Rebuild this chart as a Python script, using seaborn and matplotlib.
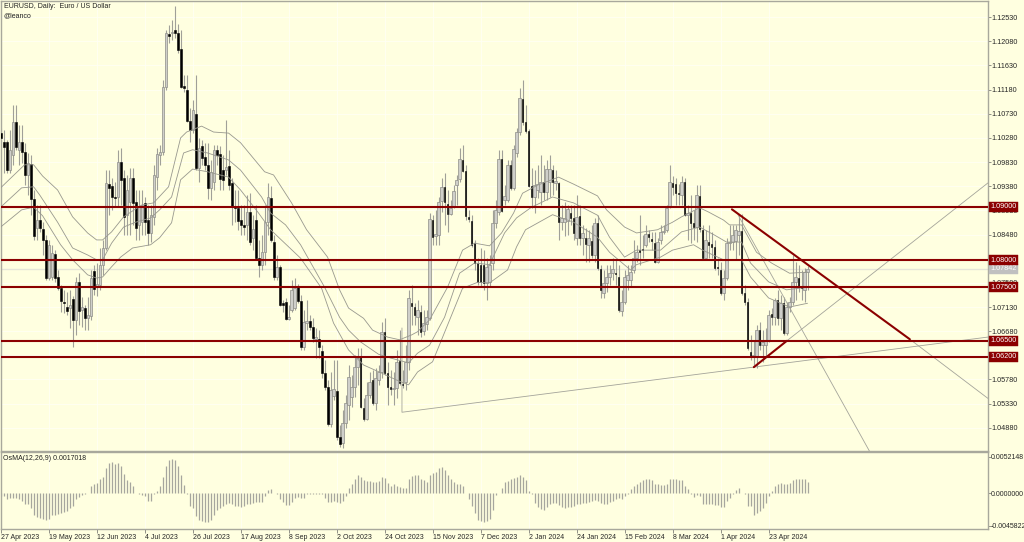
import numpy as np
import pandas as pd
import matplotlib
matplotlib.use("Agg")
import matplotlib.pyplot as plt
import seaborn as sns

# prices in 1/10000 (pips), 10 bars per row
open_pips = [
    11037, 11020, 11020, 10968, 10997, 11057, 11006, 11020, 11002, 10959,
    10980, 10914, 10860, 10875, 10858, 10838, 10767, 10769, 10812, 10769,
    10748, 10722, 10713, 10711, 10728, 10689, 10759, 10707, 10711, 10692,
    10696, 10780, 10752, 10754, 10792, 10823, 10943, 10939, 10918, 10918,
    10983, 10954, 10884, 10908, 10954, 10908, 10866, 10871, 10906, 10875,
    10851, 10881, 10955, 10997, 11002, 11122, 11222, 11224, 11229, 11224,
    11194, 11125, 11117, 11060, 11043, 11073, 10972, 11013, 10993, 10978,
    10935, 10946, 11006, 10998, 10968, 10968, 10976, 10944, 10899, 10898,
    10875, 10866, 10866, 10890, 10842, 10875, 10804, 10792, 10815, 10871,
    10916, 10834, 10769, 10788, 10720, 10722, 10691, 10707, 10711, 10750,
    10724, 10639, 10683, 10687, 10676, 10654, 10654, 10631, 10590, 10564,
    10495, 10547, 10556, 10471, 10460, 10497, 10530, 10545, 10564, 10601,
    10620, 10525, 10505, 10549, 10577, 10534, 10577, 10592, 10666, 10590,
    10564, 10560, 10562, 10612, 10570, 10573, 10611, 10720, 10713, 10694,
    10704, 10668, 10681, 10692, 10875, 10845, 10847, 10910, 10937, 10905,
    10886, 10901, 10941, 10952, 10987, 10966, 10881, 10873, 10832, 10795,
    10792, 10792, 10758, 10759, 10795, 10870, 10890, 10989, 10912, 10912,
    10978, 10935, 11000, 11039, 11101, 11057, 11041, 10939, 10918, 10931,
    10927, 10946, 10927, 10946, 10968, 10944, 10944, 10871, 10871, 10873,
    10888, 10879, 10842, 10883, 10842, 10842, 10829, 10836, 10810, 10870,
    10784, 10739, 10758, 10769, 10776, 10776, 10769, 10706, 10722, 10763,
    10763, 10782, 10804, 10819, 10821, 10829, 10849, 10840, 10832, 10797,
    10838, 10853, 10857, 10899, 10944, 10943, 10925, 10922, 10946, 10884,
    10888, 10870, 10862, 10920, 10857, 10804, 10834, 10830, 10825, 10788,
    10782, 10739, 10767, 10832, 10834, 10836, 10847, 10855, 10739, 10722,
    10629, 10620, 10620, 10670, 10642, 10642, 10652, 10700, 10694, 10726,
    10692, 10720, 10665, 10713, 10722, 10759, 10767, 10752, 10745, 10778,
]
close_pips = [
    11028, 11011, 10968, 11006, 11057, 11011, 11020, 11002, 10959, 10981,
    10914, 10845, 10875, 10860, 10838, 10767, 10829, 10814, 10767, 10748,
    10724, 10720, 10706, 10717, 10689, 10759, 10706, 10713, 10692, 10698,
    10767, 10747, 10756, 10792, 10823, 10944, 10935, 10918, 10916, 10983,
    10950, 10881, 10931, 10954, 10906, 10860, 10899, 10903, 10871, 10851,
    10884, 10959, 10998, 11002, 11122, 11224, 11218, 11225, 11224, 11192,
    11122, 11121, 11060, 11043, 11080, 10972, 11009, 10991, 10978, 10935,
    10965, 11006, 10997, 10951, 10950, 10974, 10940, 10899, 10898, 10873,
    10866, 10862, 10890, 10834, 10858, 10804, 10792, 10815, 10871, 10918,
    10838, 10769, 10788, 10717, 10717, 10691, 10694, 10745, 10748, 10724,
    10639, 10685, 10687, 10676, 10655, 10657, 10639, 10590, 10564, 10495,
    10558, 10560, 10471, 10458, 10497, 10534, 10583, 10564, 10601, 10618,
    10527, 10505, 10549, 10573, 10534, 10581, 10592, 10666, 10590, 10564,
    10560, 10562, 10611, 10571, 10568, 10611, 10730, 10715, 10698, 10707,
    10666, 10683, 10694, 10877, 10843, 10849, 10908, 10937, 10908, 10886,
    10898, 10929, 10950, 10989, 10966, 10883, 10877, 10829, 10795, 10759,
    10759, 10758, 10788, 10792, 10870, 10894, 10989, 10892, 10920, 10978,
    10935, 11007, 11039, 11102, 11057, 11041, 10939, 10918, 10940, 10943,
    10946, 10927, 10970, 10970, 10946, 10948, 10871, 10879, 10879, 10896,
    10879, 10851, 10881, 10842, 10851, 10830, 10842, 10810, 10870, 10786,
    10745, 10758, 10769, 10776, 10784, 10775, 10707, 10722, 10769, 10773,
    10778, 10804, 10815, 10815, 10819, 10849, 10843, 10836, 10797, 10834,
    10853, 10855, 10898, 10946, 10937, 10925, 10924, 10946, 10884, 10888,
    10870, 10862, 10922, 10858, 10804, 10838, 10829, 10825, 10786, 10786,
    10739, 10767, 10832, 10834, 10847, 10857, 10855, 10739, 10722, 10637,
    10620, 10624, 10670, 10642, 10648, 10652, 10698, 10694, 10726, 10692,
    10720, 10665, 10713, 10722, 10759, 10769, 10752, 10748, 10778, 10784,
]
high_pips = [
    11046, 11043, 11024, 11043, 11089, 11089, 11052, 11052, 11019, 11000,
    10997, 10931, 10903, 10903, 10871, 10847, 10838, 10829, 10819, 10782,
    10754, 10745, 10741, 10745, 10734, 10769, 10776, 10732, 10717, 10732,
    10782, 10792, 10795, 10823, 10838, 10968, 10968, 10954, 10946, 11006,
    11009, 10968, 10959, 10972, 10972, 10931, 10931, 10931, 10918, 10903,
    10903, 10978, 11009, 11015, 11136, 11229, 11238, 11248, 11274, 11240,
    11229, 11145, 11145, 11084, 11099, 11145, 11028, 11024, 11019, 11019,
    10987, 11015, 11015, 11013, 10997, 11061, 11006, 10954, 10931, 10931,
    10903, 10903, 10922, 10925, 10884, 10903, 10838, 10847, 10903, 10944,
    10939, 10847, 10810, 10792, 10726, 10730, 10717, 10763, 10767, 10756,
    10735, 10707, 10726, 10698, 10692, 10674, 10670, 10642, 10614, 10577,
    10592, 10614, 10614, 10493, 10521, 10549, 10605, 10586, 10624, 10637,
    10637, 10543, 10573, 10592, 10596, 10600, 10605, 10685, 10692, 10611,
    10596, 10592, 10633, 10670, 10596, 10642, 10745, 10754, 10720, 10726,
    10717, 10707, 10707, 10888, 10884, 10894, 10918, 10954, 10963, 10931,
    10912, 10940, 10959, 11009, 11015, 10978, 10894, 10884, 10838, 10804,
    10823, 10819, 10804, 10810, 10894, 10912, 11006, 11006, 10940, 10987,
    10987, 11015, 11046, 11121, 11136, 11089, 11045, 10972, 10968, 10978,
    10997, 10978, 10987, 10997, 10978, 10968, 10946, 10903, 10908, 10903,
    10903, 10903, 10922, 10903, 10866, 10860, 10857, 10866, 10879, 10884,
    10792, 10782, 10792, 10792, 10804, 10801, 10792, 10745, 10782, 10792,
    10792, 10838, 10829, 10884, 10847, 10866, 10857, 10853, 10853, 10842,
    10866, 10866, 10903, 10978, 10957, 10954, 10942, 10957, 10954, 10903,
    10922, 10894, 10940, 10940, 10866, 10857, 10866, 10853, 10838, 10804,
    10797, 10782, 10842, 10866, 10866, 10866, 10884, 10886, 10754, 10730,
    10661, 10652, 10679, 10685, 10670, 10674, 10707, 10711, 10730, 10745,
    10735, 10732, 10722, 10732, 10810, 10797, 10792, 10782, 10786, 10790,
]
low_pips = [
    11006, 10963, 10963, 10963, 10978, 11006, 10978, 10981, 10940, 10922,
    10884, 10838, 10838, 10853, 10810, 10763, 10763, 10763, 10759, 10745,
    10704, 10702, 10698, 10674, 10639, 10661, 10679, 10676, 10670, 10670,
    10689, 10735, 10734, 10745, 10773, 10819, 10884, 10894, 10899, 10899,
    10903, 10847, 10847, 10847, 10866, 10838, 10838, 10847, 10847, 10829,
    10834, 10866, 10931, 10978, 10997, 11117, 11205, 11210, 11214, 11186,
    11121, 11113, 11058, 11020, 11037, 10968, 10946, 10978, 10968, 10914,
    10912, 10931, 10978, 10931, 10931, 10959, 10931, 10866, 10871, 10857,
    10847, 10847, 10838, 10829, 10819, 10801, 10769, 10782, 10792, 10847,
    10834, 10763, 10763, 10715, 10704, 10689, 10689, 10704, 10707, 10720,
    10633, 10633, 10670, 10670, 10648, 10618, 10618, 10581, 10558, 10491,
    10489, 10540, 10465, 10452, 10450, 10488, 10503, 10527, 10545, 10568,
    10525, 10501, 10503, 10543, 10530, 10521, 10568, 10581, 10586, 10530,
    10549, 10530, 10543, 10568, 10562, 10558, 10596, 10680, 10680, 10661,
    10657, 10661, 10670, 10689, 10829, 10829, 10829, 10890, 10866, 10853,
    10884, 10898, 10903, 10946, 10965, 10875, 10871, 10825, 10782, 10754,
    10752, 10745, 10726, 10750, 10782, 10860, 10884, 10890, 10903, 10909,
    10931, 10931, 10993, 11034, 11052, 11037, 10937, 10898, 10888, 10916,
    10903, 10912, 10912, 10918, 10922, 10931, 10838, 10857, 10845, 10847,
    10866, 10838, 10829, 10829, 10810, 10797, 10797, 10804, 10797, 10782,
    10730, 10730, 10741, 10754, 10763, 10754, 10704, 10696, 10719, 10745,
    10750, 10776, 10797, 10792, 10804, 10825, 10834, 10819, 10795, 10795,
    10830, 10849, 10853, 10898, 10922, 10903, 10903, 10903, 10883, 10838,
    10832, 10838, 10834, 10853, 10801, 10801, 10804, 10804, 10782, 10773,
    10735, 10726, 10763, 10819, 10819, 10801, 10810, 10735, 10717, 10633,
    10614, 10605, 10600, 10633, 10611, 10620, 10648, 10680, 10680, 10680,
    10670, 10661, 10661, 10704, 10717, 10726, 10741, 10726, 10722, 10745,
]

# moving average envelope, read at the bends (bar index, pips)
upper_bar = [0, 8, 11, 14, 19, 24, 29, 32, 34, 37, 41, 47, 51, 56, 60, 62, 67, 71, 76, 80,
             88, 91, 97, 102, 109, 113, 116, 121, 124, 129, 133, 137, 139, 143, 149, 154,
             158, 163, 167, 171, 174, 179, 186, 191, 199, 202, 208, 212, 219, 224, 227,
             233, 236, 241, 243, 247, 252, 257, 263, 269]
upper_pips = [10935, 10978, 10978, 10957, 10931, 10881, 10851, 10838, 10838, 10853, 10881,
              10903, 10907, 10937, 11028, 11039, 11050, 11039, 11037, 11019, 10965, 10959,
              10907, 10857, 10806, 10745, 10711, 10692, 10670, 10657, 10652, 10661, 10667,
              10689, 10750, 10819, 10832, 10827, 10851, 10888, 10925, 10940, 10955, 10942,
              10920, 10894, 10862, 10851, 10857, 10871, 10881, 10898, 10890, 10875, 10866,
              10866, 10815, 10795, 10776, 10778]
mid_bar = [0, 7, 11, 13, 19, 24, 29, 32, 34, 37, 41, 45, 50, 53, 57, 61, 64, 69, 76, 80, 87,
           90, 95, 100, 108, 113, 116, 120, 126, 130, 136, 139, 143, 148, 153, 158, 163,
           168, 172, 177, 180, 184, 191, 199, 203, 208, 212, 220, 227, 233, 238, 242, 247,
           250, 256, 262, 269]
mid_pips = [10899, 10935, 10937, 10922, 10871, 10823, 10810, 10801, 10801, 10832, 10862,
            10871, 10879, 10894, 10918, 11000, 11006, 11000, 10987, 10968, 10918, 10888,
            10866, 10829, 10750, 10694, 10670, 10648, 10625, 10618, 10609, 10627, 10642,
            10694, 10776, 10795, 10792, 10851, 10879, 10899, 10907, 10918, 10907, 10884,
            10843, 10806, 10819, 10819, 10853, 10862, 10847, 10834, 10834, 10795, 10760,
            10745, 10750]
lower_bar = [0, 7, 11, 14, 20, 24, 29, 32, 34, 37, 40, 44, 50, 53, 57, 60, 64, 69, 76, 80, 86,
             90, 100, 107, 111, 116, 121, 127, 132, 136, 139, 144, 147, 154, 159, 163, 169,
             172, 175, 184, 191, 199, 203, 210, 212, 220, 224, 231, 234, 241, 247, 250, 256,
             263, 269]
lower_pips = [10862, 10894, 10899, 10883, 10829, 10801, 10773, 10767, 10769, 10788, 10806,
              10823, 10829, 10842, 10870, 10950, 10970, 10965, 10955, 10931, 10888, 10857,
              10804, 10748, 10683, 10633, 10605, 10590, 10577, 10568, 10592, 10611, 10652,
              10748, 10759, 10758, 10782, 10825, 10857, 10885, 10871, 10843, 10815, 10782,
              10792, 10806, 10819, 10829, 10819, 10801, 10801, 10769, 10730, 10713, 10720]

# OsMA in units of 0.00001
osma_e5 = [
    -38, -38, -76, -62, -62, -71, -85, -100, -147, -156,
    -204, -308, -337, -346, -360, -384, -356, -308, -299, -289,
    -275, -261, -242, -204, -171, -76, -52, -24, -5, 9,
    104, 128, 152, 199, 237, 365, 436, 441, 422, 431,
    398, 284, 190, 166, 104, 5, -14, -24, -38, -100,
    -109, -14, 33, 104, 232, 389, 474, 493, 474, 398,
    256, 119, -5, -180, -204, -322, -384, -393, -403, -403,
    -370, -299, -237, -204, -171, -147, -133, -147, -171, -180,
    -190, -180, -156, -156, -142, -119, -119, -119, -38, 52,
    57, 5, -5, -85, -119, -166, -166, -119, -71, -52,
    -62, -62, -14, -9, -9, -9, -14, -5, -62, -119,
    -119, -100, -119, -142, -109, -38, 71, 137, 199, 261,
    232, 185, 175, 175, 161, 161, 175, 232, 223, 152,
    104, 128, 104, 90, 71, 81, 199, 246, 270, 270,
    213, 185, 161, 261, 294, 308, 356, 374, 341, 270,
    209, 166, 137, 128, 104, 5, -85, -180, -275, -370,
    -393, -403, -393, -356, -228, -24, 9, 81, 161, 175,
    209, 223, 237, 256, 237, 185, 33, -5, -133, -190,
    -218, -237, -194, -156, -142, -137, -166, -190, -204, -194,
    -194, -175, -156, -147, -137, -133, -119, -109, -95, -100,
    -142, -147, -147, -119, -109, -85, -71, -81, -38, -5,
    57, 104, 137, 166, 185, 209, 209, 190, 137, 128,
    119, 119, 137, 199, 209, 209, 190, 190, 104, 57,
    -5, -47, -24, -38, -156, -156, -156, -156, -166, -166,
    -194, -194, -109, -62, -5, 43, 81, 9, -14, -171,
    -180, -299, -275, -242, -204, -133, -38, 33, 104, 128,
    152, 137, 137, 152, 190, 199, 199, 199, 199, 170,
]

# levels and drawn lines (bar index, pips)
level_pips = [10900, 10800, 10750, 10650, 10620]
level_names = ["1.09000", "1.08000", "1.07500", "1.06500", "1.06200"]
last_pips = 10784
thin_lines = [
    ([133.8, 133.8, 329.1], [10674, 10517, 10657]),
    ([262.1, 329.1], [10650, 10944]),
    ([245.8, 289.8], [10885, 10443]),
    ([303.1, 329.1], [10653, 10543]),
]
red_lines = [
    ([243.8, 303.1], [10895, 10653]),
    ([251.1, 262.1], [10601, 10650]),
]

y_ticks = [1.1253, 1.1208, 1.1163, 1.1118, 1.1073, 1.1028, 1.0983, 1.0938, 1.0893, 1.0848,
           1.0803, 1.0758, 1.0713, 1.0668, 1.0623, 1.0578, 1.0533, 1.0488]
osma_ticks = [0.0052148, 0.0, -0.0045822]
date_bars = [0, 16, 32, 48, 64, 80, 96, 112, 128, 144, 160, 176, 192, 208, 224, 240, 256]
date_labels = ["27 Apr 2023", "19 May 2023", "12 Jun 2023", "4 Jul 2023", "26 Jul 2023",
               "17 Aug 2023", "8 Sep 2023", "2 Oct 2023", "24 Oct 2023", "15 Nov 2023",
               "7 Dec 2023", "2 Jan 2024", "24 Jan 2024", "15 Feb 2024", "8 Mar 2024",
               "1 Apr 2024", "23 Apr 2024"]

BG = "#ffffe0"
GREY = "#98988e"
DARKRED = "#8b0000"
FS = 5.0
FS_PRICE = 5.2

sns.set_style("white")
plt.rcParams["font.family"] = ["Liberation Sans", "DejaVu Sans"]
plt.rcParams["text.color"] = "#202020"

fig = plt.figure(figsize=(10.24, 5.42), dpi=100, facecolor=BG)
W, H = 1024, 542
ax = fig.add_axes([1 / W, 1 - 451 / H, 986.5 / W, 450 / H], facecolor=BG)
ax2 = fig.add_axes([1 / W, 1 - 529 / H, 986.5 / W, 77 / H], facecolor=BG)

xlim = (0.13, 329.0)
o = np.array(open_pips) / 1e4
c = np.array(close_pips) / 1e4
hi = np.array(high_pips) / 1e4
lo = np.array(low_pips) / 1e4
bars = np.arange(len(o))
up = c >= o

for x in date_bars:
    for a in (ax, ax2):
        a.axvline(x, color="#fffff4", lw=0.6, zorder=0)
for y in y_ticks:
    ax.axhline(y, color="#fffff4", lw=0.6, zorder=0)

ax.vlines(bars, lo, hi, color="#a0a098", lw=0.8, zorder=2)
ax.bar(bars[up], (c - o)[up], bottom=o[up], width=0.72, color="#cfcfca",
       edgecolor="#8e8e88", linewidth=0.5, zorder=3)
ax.bar(bars[~up], (o - c)[~up], bottom=c[~up], width=0.62, color="black",
       edgecolor="black", linewidth=0.4, zorder=3)

for b, p in [(upper_bar, upper_pips), (mid_bar, mid_pips), (lower_bar, lower_pips)]:
    band = pd.DataFrame({"bar": b, "price": np.array(p) / 1e4})
    sns.lineplot(data=band, x="bar", y="price", ax=ax, color=GREY, lw=0.6, zorder=4,
                 errorbar=None, sort=False)

for xs, ys in thin_lines:
    ax.plot(xs, np.array(ys) / 1e4, color="#a4a49a", lw=0.6, zorder=4)
ax.axhline(last_pips / 1e4, color="#e6e6d8", lw=1.0, zorder=1)
for p in level_pips:
    ax.axhline(p / 1e4, color=DARKRED, lw=1.5, zorder=5)
for xs, ys in red_lines:
    ax.plot(xs, np.array(ys) / 1e4, color=DARKRED, lw=1.5, zorder=5, solid_capstyle="round")

ax.set_xlim(xlim)
ax.set_ylim(1.04448, 1.12831)
ax.set_xlabel("")
ax.set_ylabel("")
ax.set_xticks([])
ax.yaxis.tick_right()
ax.set_yticks(y_ticks)
ax.set_yticklabels([f"{t:.5f}" for t in y_ticks], fontsize=FS_PRICE)
ax.tick_params(axis="y", length=2, width=0.6, color="#808078", pad=0.5, right=True, left=False)

trans = ax.get_yaxis_transform()
label_x = 1 + 3 / 986.5
for p, name in zip(level_pips, level_names):
    ax.text(label_x, p / 1e4, name, transform=trans, fontsize=FS_PRICE, color="white",
            va="center", ha="left", zorder=8, clip_on=False,
            bbox=dict(fc=DARKRED, ec=DARKRED, pad=1.0, lw=0.3))
ax.text(label_x, last_pips / 1e4, "1.07842", transform=trans, fontsize=FS_PRICE, color="white",
        va="center", ha="left", zorder=7, clip_on=False,
        bbox=dict(fc="#c0c0c0", ec="#c0c0c0", pad=1.0, lw=0.3))

ax.text(3 / 986.5, 1 - 6 / 450, "EURUSD, Daily:  Euro / US Dollar", transform=ax.transAxes,
        fontsize=FS, va="center", ha="left", zorder=9)
ax.text(3 / 986.5, 1 - 14.5 / 450, "@leanco", transform=ax.transAxes, fontsize=FS,
        va="center", ha="left", zorder=9)

# OsMA histogram
osma = np.array(osma_e5) * 1e-5
ax2.vlines(np.arange(len(osma)), 0, osma, color="#a6a69e", lw=0.9, zorder=3)
ax2.set_xlim(xlim)
ax2.set_ylim(-0.00505, 0.00590)
ax2.yaxis.tick_right()
ax2.set_yticks(osma_ticks)
ax2.set_yticklabels(["0.0052148", "0.0000000", "-0.0045822"], fontsize=FS)
ax2.set_xticks(date_bars)
ax2.set_xticklabels(date_labels, fontsize=FS, ha="left")
ax2.tick_params(axis="y", length=2, width=0.6, color="#808078", pad=0.5, right=True, left=False)
ax2.tick_params(axis="x", length=3, width=0.6, color="#808078", pad=0.8, bottom=True)
ax2.text(2 / 986.5, 1 - 6 / 77, "OsMA(12,26,9) 0.0017018", transform=ax2.transAxes,
         fontsize=FS, va="center", ha="left")

for a in (ax, ax2):
    for side, s in a.spines.items():
        s.set_visible(True)
        s.set_color("#a8a89c")
        s.set_linewidth(1.0)

fig.savefig("out.png", dpi=100, facecolor=BG)
